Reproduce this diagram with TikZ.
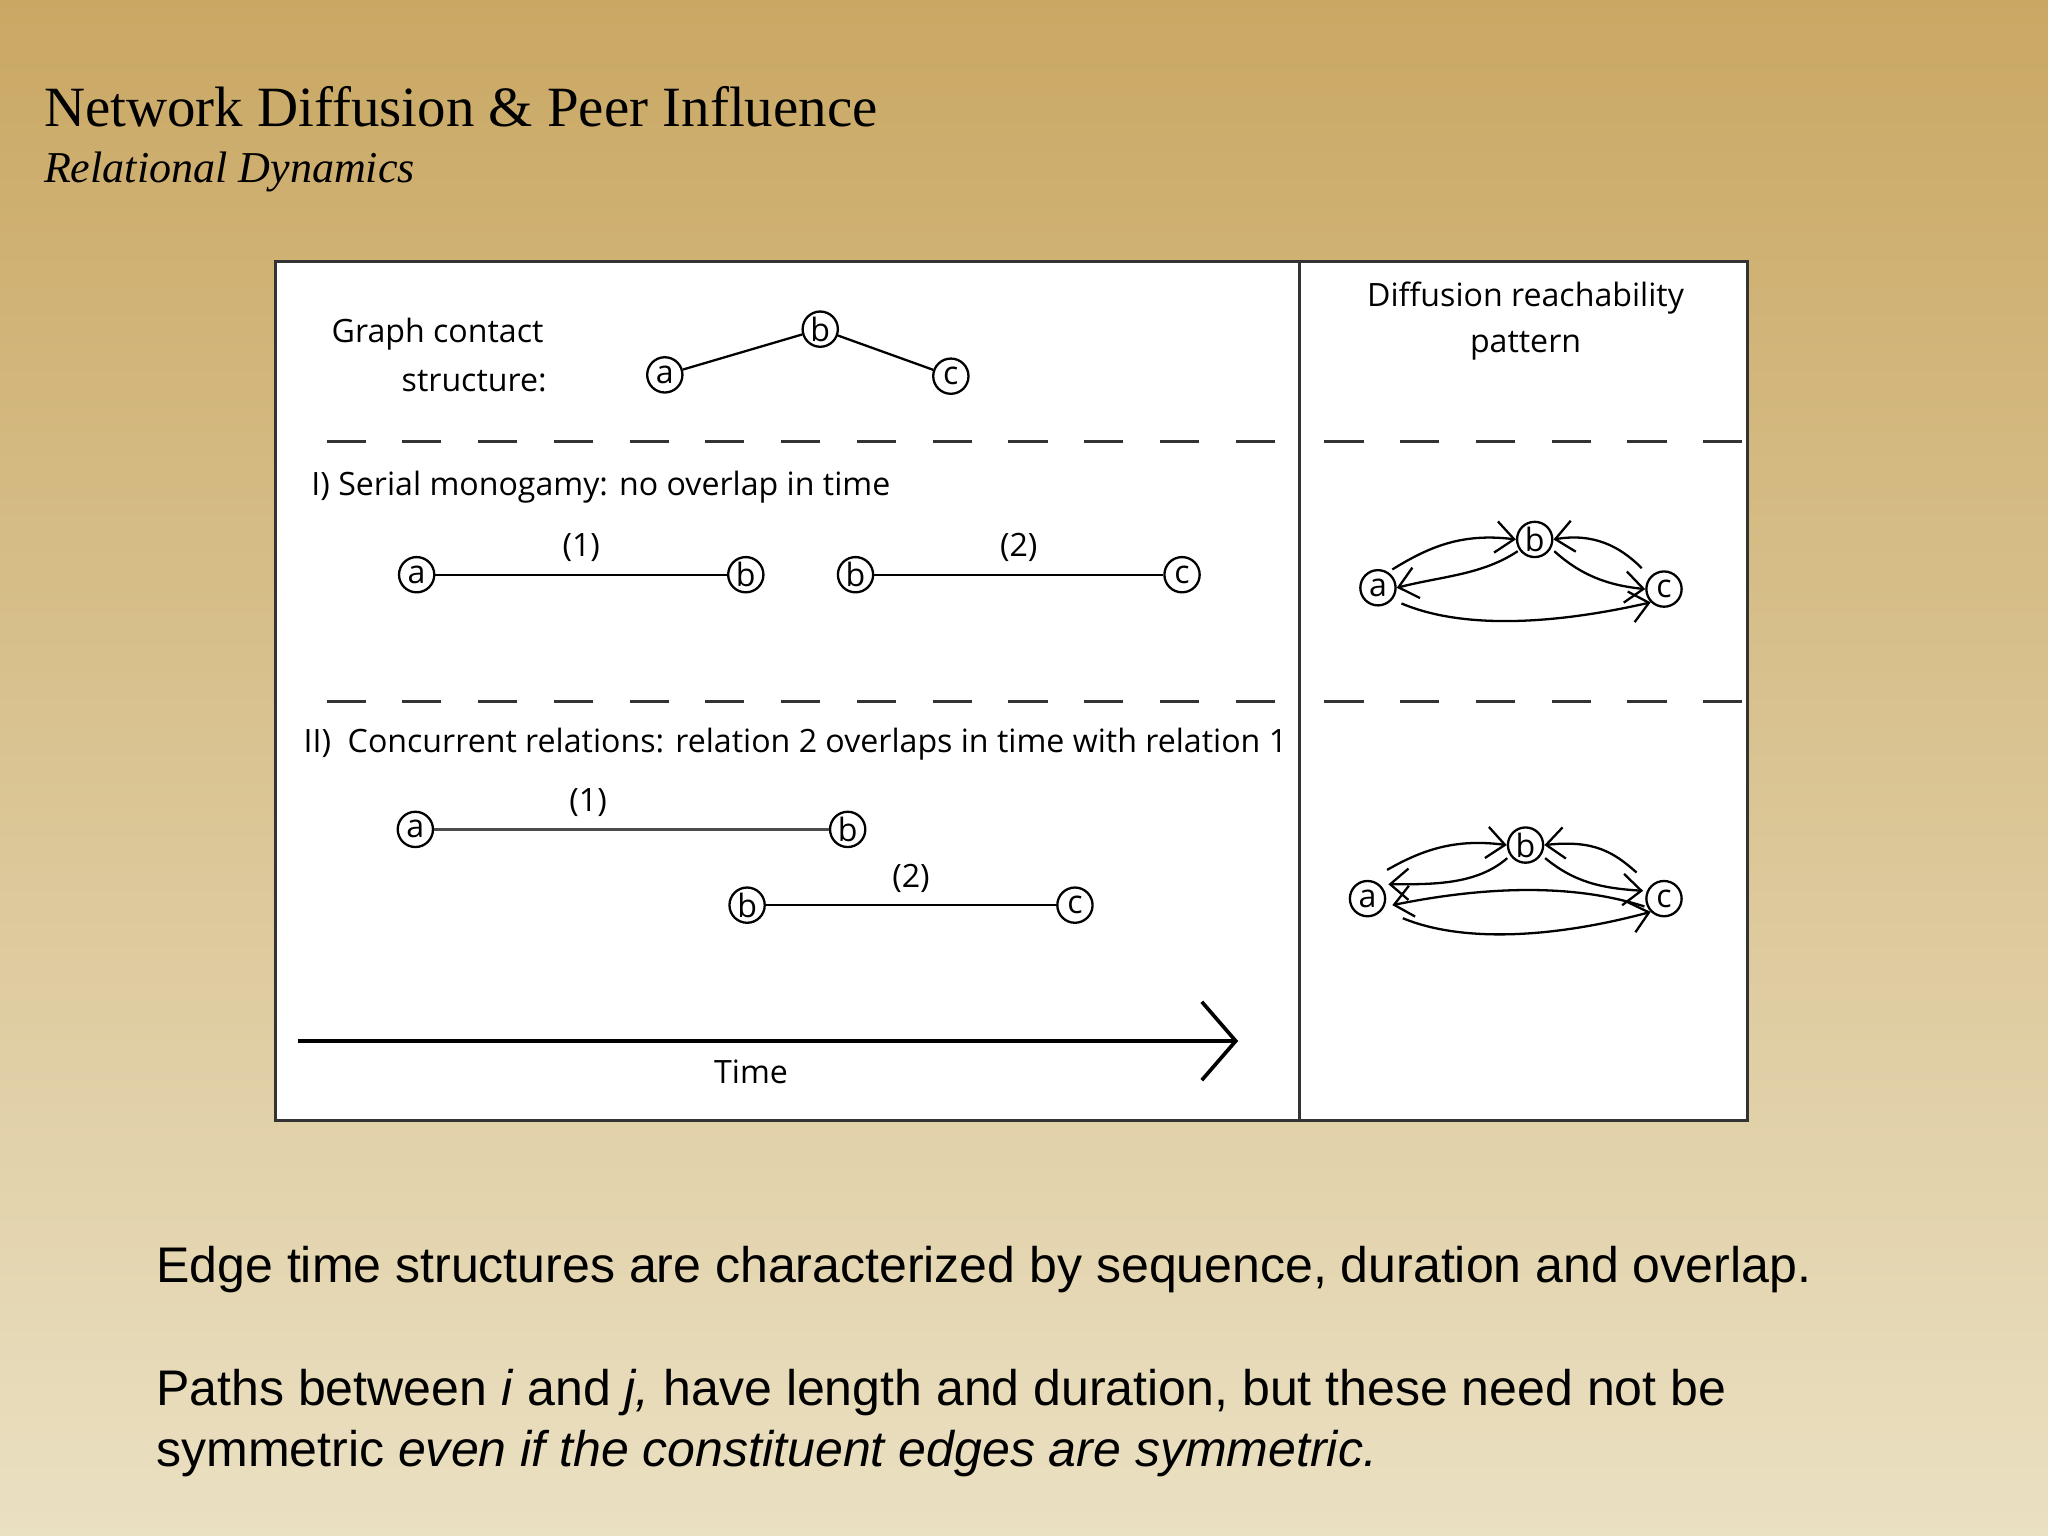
\documentclass[tikz,border=0pt]{standalone}
\usepackage{fontspec}
\setmainfont{Liberation Serif}
\newfontfamily\dfont{Open Sans}
\newfontfamily\bfont{Liberation Sans}
\usetikzlibrary{arrows.meta}
\definecolor{bgtop}{RGB}{202,168,100}
\definecolor{bgbot}{RGB}{234,224,194}
\tikzset{
 v/.style={circle,draw,line width=0.5pt,minimum size=2.7mm,inner sep=0pt,font=\dfont\fontsize{7}{8}\selectfont},
 lab/.style={font=\dfont\fontsize{7}{10}\selectfont,inner sep=0.5pt},
 ed/.style={line width=0.5pt},
 ar/.style={line width=0.5pt,-{Straight Barb[length=1.4mm,width=2.4mm]}},
 dsh/.style={line width=0.6pt,dash pattern=on 3mm off 2.8mm,draw=black!80},
 btxt/.style={anchor=base west,inner sep=0pt,font=\bfont\fontsize{10.9}{13}\selectfont},
}
\begin{document}
\begin{tikzpicture}[x=0.1mm,y=-0.1mm]
\shade[top color=bgtop,bottom color=bgbot] (0,0) rectangle (1568,1176);
\useasboundingbox (0,0) rectangle (1568,1176);
\node[anchor=base west,inner sep=0pt,font=\fontsize{12.4}{15}\selectfont] (title) at (33,97) {Network Diffusion \& Peer Influence};
\node[anchor=base west,inner sep=0pt,font=\itshape\fontsize{9.6}{12}\selectfont] (sub) at (33,140) {Relational Dynamics};
% box
\draw[fill=white,draw=black!80,line width=0.7pt] (211,200) rectangle (1338,858);
\draw[draw=black!80,line width=0.7pt] (995,200) -- (995,858);
\draw[dsh] (250,338) -- (995,338);
\draw[dsh] (1014,338) -- (1338,338);
\draw[dsh] (250,537) -- (995,537);
\draw[dsh] (1014,537) -- (1338,537);
% graph contact
\node[lab] (gc) at (335,256) {Graph contact};
\node[lab,anchor=east] (gs) at (421,292) {structure:};
\node[v] (ga) at (509,287) {a};
\node[v] (gb) at (628,252) {b};
\node[v] (gcc) at (728,288) {c};
\draw[ed] (ga) -- (gb); \draw[ed] (gb) -- (gcc);
\node[lab,align=center] (dr) at (1168,246) {Diffusion reachability\\pattern};
% I
\node[lab,anchor=west] (t1) at (236,373) {I) Serial monogamy: no overlap in time};
\node[v] (a1) at (319,440) {a};
\node[v] (b1) at (571,440) {b};
\node[v] (b1b) at (655,440) {b};
\node[v] (c1) at (905,440) {c};
\draw[ed] (a1) -- node[lab,above=2pt,pos=0.5]{(1)} (b1);
\draw[ed] (b1b) -- node[lab,above=2pt,pos=0.5]{(2)} (c1);
% I right
\node[v] (ra) at (1055,450) {a};
\node[v] (rb) at (1175,413) {b};
\node[v] (rc) at (1274,451) {c};
\draw[ar] (1066,436) .. controls (1095,418) and (1120,408) .. (rb.west);
\draw[ar] (1162,422) .. controls (1135,440) and (1105,441) .. (ra.east);
\draw[ar] (1257,435) .. controls (1240,418) and (1220,408) .. (rb.east);
\draw[ar] (1190,422) .. controls (1210,440) and (1230,448) .. (rc.west);
\draw[ar] (1073,462) .. controls (1120,482) and (1190,478) .. (rc.south west);
% II
\node[lab,anchor=west] (t2) at (230,570) {II)\ \ Concurrent relations: relation 2 overlaps in time with relation 1};
\node[v] (a2) at (318,635) {a};
\node[v] (b2) at (649,635) {b};
\node[v] (b2b) at (572,693) {b};
\node[v] (c2) at (823,693) {c};
\draw[ed,draw=black!70,line width=0.8pt] (a2) -- node[lab,above=2pt,pos=0.39]{(1)} (b2);
\draw[ed] (b2b) -- node[lab,above=2pt,pos=0.5]{(2)} (c2);
% II right
\node[v] (sa) at (1047,688) {a};
\node[v] (sb) at (1168,647) {b};
\node[v] (sc) at (1274,688) {c};
\draw[ar] (1062,666) .. controls (1090,650) and (1115,642) .. (sb.west);
\draw[ar] (1154,657) .. controls (1130,678) and (1095,677) .. (1063,677);
\draw[ar] (1253,668) .. controls (1235,652) and (1220,643) .. (sb.east);
\draw[ar] (1183,657) .. controls (1205,675) and (1225,680) .. (1258,682);
\draw[ar] (1259,694) .. controls (1200,675) and (1130,680) .. (1066,693);
\draw[ar] (1074,703) .. controls (1120,722) and (1190,718) .. (sc.south west);
% time
\coordinate (ts) at (228,797);
\coordinate (te) at (948,797);
\draw[line width=1pt,-{Straight Barb[length=2.6mm,width=6mm,line width=0.8pt]}] (ts) -- (te);
\node[lab] (time) at (575,821) {Time};
% bottom text
\node[btxt] (p1) at (119,982) {Edge time structures are characterized by sequence, duration and overlap.};
\node[btxt] (p2) at (119,1076) {Paths between \textit{i} and \textit{j,} have length and duration, but these need not be};
\node[btxt] (p3) at (119,1123) {symmetric \textit{even if the constituent edges are symmetric.}};
\end{tikzpicture}
\end{document}
